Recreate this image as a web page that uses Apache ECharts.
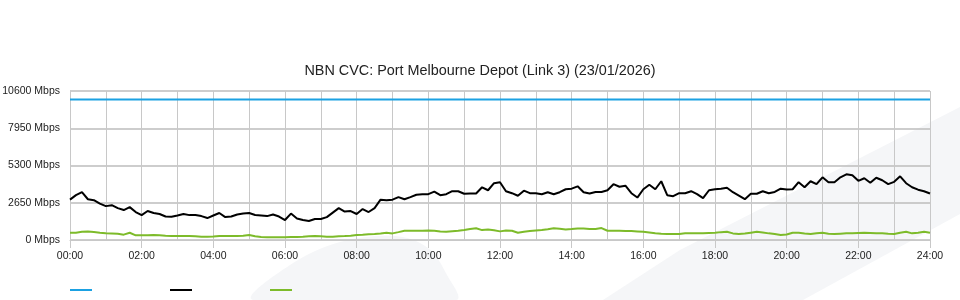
<!DOCTYPE html>
<html>
<head>
<meta charset="utf-8">
<script src="https://cdn.jsdelivr.net/npm/echarts@6/dist/echarts.min.js"></script>
<style>html,body{margin:0;padding:0;background:#fff}#c{width:960px;height:300px}</style>
</head>
<body>
<div id="c"></div>
<script>
const titleText = 'NBN CVC: Port Melbourne Depot (Link 3) (23/01/2026)';
const stepMinutes = 10;
const yTicks = [0, 2650, 5300, 7950, 10600];
const seriesNames = ['Capacity', 'Download', 'Upload'];
const capacityTimes = [0, 1440];
const capacityVals = [10000, 10000];
const downloadVals = [
2870,3190,3400,2900,2830,2590,2410,2480,2270,2130,2340,1990,1770,2060,1920,1850,1670,1650,1740,1850,
1770,1780,1700,1560,1740,1920,1630,1670,1810,1880,1920,1780,1740,1700,1810,1670,1420,1880,1530,1420,
1350,1490,1490,1630,1950,2270,2020,2060,1850,2200,1990,2270,2870,2830,2870,3050,2900,3050,3220,3260,
3260,3440,3190,3260,3470,3470,3290,3310,3310,3750,3540,4040,4110,3470,3330,3150,3510,3330,3330,3260,
3400,3260,3400,3610,3650,3820,3400,3310,3420,3420,3540,3970,3790,3860,3330,3020,3610,3930,3610,4180,
3190,3120,3330,3330,3470,3260,2980,3540,3610,3650,3720,3400,3150,2900,3290,3290,3470,3330,3420,3650,
3590,3610,4110,3750,4180,3970,4460,4110,4110,4460,4670,4600,4210,4390,4070,4430,4250,3970,4140,4530,
4040,3750,3580,3470,3310
];
const uploadVals = [
515,515,585,613,564,515,472,458,444,380,515,331,331,331,352,330,303,290,281,281,
281,260,232,232,250,281,281,281,281,300,352,260,210,200,200,200,195,210,210,230,
260,281,260,240,232,260,281,310,352,370,410,423,460,515,470,560,656,656,656,656,
670,656,610,585,620,656,705,790,840,705,740,700,613,680,660,515,580,635,670,705,
760,830,800,755,780,820,810,790,780,847,656,656,656,645,635,610,585,530,472,450,
430,423,423,472,472,472,472,500,520,560,585,470,423,460,520,580,540,472,420,352,
390,520,515,460,423,480,515,450,423,450,472,480,500,515,500,472,480,440,423,520,
585,472,520,585,515
];

function pad(n){ return (n < 10 ? '0' : '') + n; }
const toPairs = (vals) => vals.map((v, i) => [i * stepMinutes, v]);

const chart = echarts.init(document.getElementById('c'), null, {renderer: 'canvas'});
const FONT = 'Liberation Sans';
chart.setOption({
  animation: false,
  backgroundColor: '#ffffff',
  textStyle: {fontFamily: FONT},
  title: {
    text: titleText,
    left: 'center',
    top: 59,
    textStyle: {fontFamily: FONT, fontSize: 14.4, fontWeight: 'normal', color: '#222'}
  },
  graphic: [
    {type: 'polygon', z: -10, silent: true,
     shape: {points: [[603,300],[680,250],[960,107],[960,214],[803,300]]},
     style: {fill: '#f5f6f8'}},
    {type: 'polygon', z: -10, silent: true,
     shape: {smooth: 0.35, points: [[253,300],[290,265],[340,242],[395,236],[428,248],[447,275],[456,300]]},
     style: {fill: '#f5f6f8'}}
  ],
  legend: {
    left: 65, top: 284,
    icon: 'rect', itemWidth: 22, itemHeight: 2, itemGap: 78,
    formatter: () => '',
    data: seriesNames
  },
  grid: {left: 70, right: 30, top: 91, bottom: 60, containLabel: false, outerBoundsMode: 'none'},
  xAxis: {
    type: 'value', min: 0, max: 1440, interval: 120,
    axisLine: {show: true, lineStyle: {color: '#c8c8c8', width: 1}},
    axisTick: {show: true, length: 8, lineStyle: {color: '#c8c8c8'}},
    axisLabel: {margin: 11, fontSize: 10.5, color: '#222', fontFamily: FONT,
      formatter: v => pad(Math.round(v / 60)) + ':00'},
    splitLine: {show: true, lineStyle: {color: '#c8c8c8', width: 1}},
    minorTick: {show: false, splitNumber: 2},
    minorSplitLine: {show: true, lineStyle: {color: '#c8c8c8', width: 1}}
  },
  yAxis: {
    type: 'value', min: yTicks[0], max: yTicks[yTicks.length - 1], interval: 2650,
    axisLine: {show: true, lineStyle: {color: '#c8c8c8'}},
    axisTick: {show: false},
    axisLabel: {margin: 10, fontSize: 10.5, color: '#222', fontFamily: FONT, padding: [0, 0, 5, 0],
      formatter: v => v + ' Mbps'},
    splitLine: {show: true, lineStyle: {color: '#bdbdbd', width: 1.5}}
  },
  series: [
    {name: seriesNames[0], type: 'line', data: capacityTimes.map((t, i) => [t, capacityVals[i]]),
     showSymbol: false, lineStyle: {color: '#1ba1e2', width: 2}, itemStyle: {color: '#1ba1e2'}, z: 3},
    {name: seriesNames[1], type: 'line', data: toPairs(downloadVals),
     showSymbol: false, lineStyle: {color: '#000000', width: 2}, itemStyle: {color: '#000000'}, z: 4},
    {name: seriesNames[2], type: 'line', data: toPairs(uploadVals),
     showSymbol: false, lineStyle: {color: '#7dbb2a', width: 2}, itemStyle: {color: '#7dbb2a'}, z: 4}
  ]
});
</script>
</body>
</html>
